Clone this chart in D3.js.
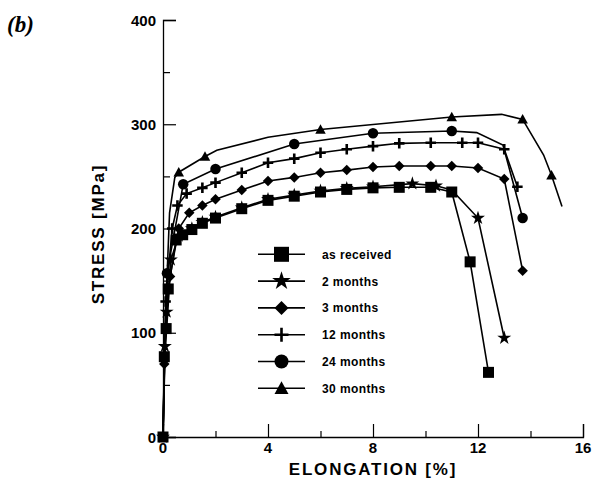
<!DOCTYPE html>
<html><head><meta charset="utf-8">
<script src="https://cdn.jsdelivr.net/npm/d3@7"></script>
<style>
html,body{margin:0;padding:0;background:#fff;}
svg{display:block;}
text{font-family:"Liberation Sans",Arial,sans-serif;font-weight:bold;fill:#000;}
</style></head>
<body><svg id="c" width="593" height="492"></svg>
<script>
// Data: [elongation %, stress MPa, marker shown (1/0)]
const seriesNames = ["as received","2 months","3 months","12 months","24 months","30 months"];
const symbols = ["square","star","diamond","plus","circle","triangle"];
const asReceived = [[0,0,1],[0.05,77,1],[0.12,104,1],[0.2,142,1],[0.5,189,1],[0.75,194,1],[1.1,199,1],[1.5,205,1],[2,210,1],[3,219,1],[4,227,1],[5,231,1],[6,235,1],[7,237.5,1],[8,239,1],[9,239.5,1],[10.2,239.5,1],[11,235,1],[11.7,168,1],[12.4,62,1]];
const months2 = [[0,0,1],[0.07,87,1],[0.14,120,1],[0.3,170,1],[0.6,193,1],[1.1,200,1],[1.5,206,1],[2,211,1],[3,220,1],[4,228,1],[5,232,1],[6,236,1],[7,238.5,1],[8,240,1],[9.5,243,1],[10.4,241,1],[11,237,0],[12,210,1],[13,95,1]];
const months3 = [[0,0,1],[0.05,70,1],[0.27,154,1],[0.6,200,1],[1.0,215,1],[1.5,222,1],[2,228,1],[3,237,1],[4,245.5,1],[5,249,1],[6,253.5,1],[7,256,1],[8,259,1],[9,260,1],[10.2,260,1],[11,260,1],[12,258,1],[13,247.5,1],[13.7,159.5,1]];
const months12 = [[0,0,0],[0.1,130,1],[0.35,200,1],[0.55,222,1],[0.9,233.5,1],[1.5,239,1],[2,244,1],[3,253.5,1],[4,263,1],[5,267,1],[6,272.7,1],[7,276,1],[8,279,1],[9,281.7,1],[10.2,282.3,1],[11.4,282.3,1],[12,282.3,1],[13,276,1],[13.5,240,1]];
const months24 = [[0,0,0],[0.15,157,1],[0.77,242.5,1],[2,257,1],[5,281,1],[8,291.3,1],[11,293.5,1],[11.95,292,0],[12.95,280,0],[13.7,210,1]];
const months30 = [[0,0,0],[0.1,120,0],[0.25,215,0],[0.45,249,0],[0.6,254,1],[1.6,269,1],[2.05,275,0],[4,287.5,0],[6,295,1],[11,307,1],[12.9,309.5,0],[13.7,304.7,1],[14.5,270.5,0],[14.8,251,1],[15.2,221,0]];
const allSeries = [asReceived, months2, months3, months12, months24, months30];
const xMajorTicks = [0,4,8,12,16];
const xMinorTicks = [2,6,10,14];
const yMajorTicks = [0,100,200,300,400];
const yMinorTicks = [50,150,250,350];
const xTitle = "ELONGATION [%]";
const yTitle = "STRESS [MPa]";
const panelLabel = "(b)";

const svg = d3.select("#c");
const x = d3.scaleLinear().domain([0,16]).range([163,583]);
const y = d3.scaleLinear().domain([0,400]).range([437,20]);

// axes (ticks inside)
const gx = svg.append("g").attr("transform",`translate(0,${y(0)})`);
gx.call(d3.axisBottom(x).tickValues(xMajorTicks).tickSize(-13).tickFormat(""));
gx.append("g").call(d3.axisBottom(x).tickValues(xMinorTicks).tickSize(-6).tickFormat(""));
gx.selectAll("path.domain").attr("stroke","#000").attr("stroke-width",1.3);
gx.selectAll("line").attr("stroke","#000").attr("stroke-width",1.2);
gx.selectAll("g g path.domain").remove();
const gy = svg.append("g").attr("transform",`translate(${x(0)},0)`);
gy.call(d3.axisLeft(y).tickValues(yMajorTicks).tickSize(-13).tickFormat(""));
gy.append("g").call(d3.axisLeft(y).tickValues(yMinorTicks).tickSize(-7).tickFormat(""));
gy.selectAll("path.domain").attr("stroke","#000").attr("stroke-width",1.3);
gy.selectAll("line").attr("stroke","#000").attr("stroke-width",1.2);
gy.selectAll("g g path.domain").remove();

// tick labels
svg.append("g").selectAll("text").data(xMajorTicks).join("text")
  .attr("x",d=>x(d)).attr("y",453).attr("text-anchor","middle")
  .style("font-size","15px").text(d=>d);
svg.append("g").selectAll("text").data(yMajorTicks).join("text")
  .attr("x",156).attr("y",d=>y(d)+5.5).attr("text-anchor","end")
  .style("font-size","15px").text(d=>d);

svg.append("text").attr("x",373).attr("y",475).attr("text-anchor","middle")
  .style("font-size","17px").style("letter-spacing","1.8px").text(xTitle);
svg.append("text").attr("transform","translate(104,234) rotate(-90)").attr("text-anchor","middle")
  .style("font-size","17px").style("letter-spacing","1.8px").text(yTitle);
svg.append("text").attr("x",7).attr("y",32)
  .style("font-family","'Liberation Serif','Times New Roman',serif").style("font-style","italic")
  .style("font-size","23px").text(panelLabel);

function drawMarker(g, sym, cx, cy, s){
  if(sym==="square"){
    g.append("rect").attr("x",cx-s/2).attr("y",cy-s/2).attr("width",s).attr("height",s).attr("fill","#000");
  } else if(sym==="circle"){
    g.append("circle").attr("cx",cx).attr("cy",cy).attr("r",s/2).attr("fill","#000");
  } else if(sym==="diamond"){
    const h=s/2;
    g.append("path").attr("d",`M${cx},${cy-h}L${cx+h},${cy}L${cx},${cy+h}L${cx-h},${cy}Z`).attr("fill","#000");
  } else if(sym==="triangle"){
    const h=s/2;
    g.append("path").attr("d",`M${cx},${cy-h}L${cx+h},${cy+h*0.8}L${cx-h},${cy+h*0.8}Z`).attr("fill","#000");
  } else if(sym==="star"){
    g.append("path").attr("transform",`translate(${cx},${cy})`)
      .attr("d",d3.symbol(d3.symbolStar, s*s*0.55)()).attr("fill","#000");
  } else if(sym==="plus"){
    const h=s/2;
    g.append("path").attr("d",`M${cx-h},${cy}H${cx+h}M${cx},${cy-h}V${cy+h}`)
      .attr("stroke","#000").attr("stroke-width",2.6).attr("fill","none");
  }
}

const line = d3.line().x(d=>x(d[0])).y(d=>y(d[1]));
// draw 2 months first so squares cover most stars
const order = [1,0,2,3,4,5];
order.forEach(i=>{
  const data = allSeries[i];
  const g = svg.append("g");
  g.append("path").datum(data).attr("d",line).attr("fill","none").attr("stroke","#000").attr("stroke-width",1.6);
  data.filter(d=>d[2]).forEach(d=>drawMarker(g, symbols[i], x(d[0]), y(d[1]), symbols[i]==="square"?11:10.5));
});

// legend
const lg = svg.append("g");
seriesNames.forEach((name,i)=>{
  const yy = 254.3 + i*26.8;
  lg.append("line").attr("x1",258).attr("x2",305).attr("y1",yy).attr("y2",yy).attr("stroke","#000").attr("stroke-width",1.6);
  drawMarker(lg, symbols[i], 281.5, yy, symbols[i]==="square"?15:14);
  lg.append("text").attr("x",322).attr("y",yy+4.5).style("font-size","12px").style("letter-spacing","0.4px").text(name);
});
</script></body></html>
